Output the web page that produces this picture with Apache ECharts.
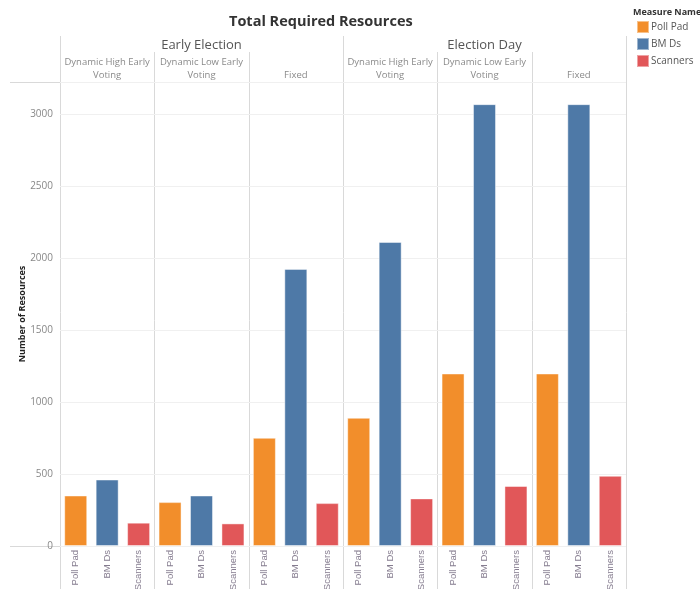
<!DOCTYPE html>
<html>
<head>
<meta charset="utf-8">
<script src="https://cdn.jsdelivr.net/npm/echarts@6/dist/echarts.min.js"></script>
<style>
  html, body { margin: 0; padding: 0; background: #fff; }
  #root { width: 700px; height: 589px; }
</style>
</head>
<body>
<div id="root"></div>
<script>
const groups = ['Early Election', 'Election Day'];
const scenarios = ['Dynamic High Early\nVoting', 'Dynamic Low Early\nVoting', 'Fixed'];
const measures = ['Poll Pad', 'BM Ds', 'Scanners'];
const colors = ['#F28E2B', '#4E79A7', '#E15759'];

// one value per panel: EE high, EE low, EE fixed, ED high, ED low, ED fixed
const pollPad = [351, 305, 752, 891, 1199, 1199];
const bmDs = [462, 351, 1926, 2113, 3071, 3071];
const scanners = [162, 157, 298, 331, 417, 488];

const values = [pollPad, bmDs, scanners];
const font = 'Open Sans';

const gridLeft = 60, gridRight = 74, gridTop = 82, gridBottom = 43;
const W = 700, H = 589;
const plotW = W - gridLeft - gridRight;

// 18 categories: panel x measure
let cats = [];
let panelNames = [];
groups.forEach(() => scenarios.forEach(s => {
  panelNames.push(s);
  measures.forEach(m => cats.push(m));
}));

const series = measures.map((m, mi) => {
  let data = cats.map(() => null);
  values[mi].forEach((v, p) => { data[p * 3 + mi] = v; });
  return {
    name: m,
    type: 'bar',
    data: data,
    barWidth: 23,
    barGap: '-100%',
    itemStyle: { color: colors[mi], borderColor: 'rgba(255,255,255,0.45)', borderWidth: 1 },
    emphasis: { disabled: true }
  };
});

// panel separators
let lines = [];
const panelW = plotW / 6;
for (let i = 0; i <= 6; i++) {
  const x = Math.round(gridLeft + i * panelW) + 0.5;
  const top = (i % 3 === 0) ? 36 : 52;
  lines.push({
    type: 'line', silent: true,
    shape: { x1: x, y1: top, x2: x, y2: H },
    style: { stroke: '#d9d9d9', lineWidth: 1 }
  });
}
lines.push({
  type: 'line', silent: true,
  shape: { x1: 10, y1: gridTop + 0.5, x2: W - gridRight, y2: gridTop + 0.5 },
  style: { stroke: '#d9d9d9', lineWidth: 1 }
});
lines.push({
  type: 'line', silent: true,
  shape: { x1: 10, y1: H - gridBottom + 0.5, x2: W - gridRight, y2: H - gridBottom + 0.5 },
  style: { stroke: '#d9d9d9', lineWidth: 1 }
});
lines.push({
  type: 'text', left: 633, top: 8, silent: true,
  style: { text: 'Measure Names', font: 'bold 9px "' + font + '"', fill: '#333' }
});

let myChart = echarts.init(document.getElementById('root'));

let option = {
  animation: false,
  textStyle: { fontFamily: font },
  title: {
    text: 'Total Required Resources',
    left: 224,
    top: 9,
    textStyle: { fontFamily: font, fontSize: 14.5, fontWeight: 'bold', color: '#333' }
  },
  legend: {
    data: measures,
    orient: 'vertical',
    left: 636,
    top: 20,
    padding: 0,
    icon: 'rect',
    itemWidth: 12,
    itemHeight: 12,
    itemGap: 3,
    selectedMode: false,
    textStyle: { fontFamily: font, fontSize: 10, color: '#555', padding: [0, 0, 0, -3] }
  },
  grid: {
    left: gridLeft, right: gridRight, top: gridTop, bottom: gridBottom,
    outerBoundsMode: 'none'
  },
  xAxis: [
    {
      type: 'category',
      data: cats,
      axisLine: { show: false },
      axisTick: { show: false },
      axisLabel: {
        rotate: 90, margin: 4, fontSize: 9.5, fontFamily: 'Liberation Sans',
        color: '#857c8f', interval: 0
      }
    },
    {
      type: 'category',
      data: panelNames,
      position: 'top',
      axisLine: { show: false },
      axisTick: { show: false },
      axisLabel: { interval: 0, margin: 0, fontSize: 9.5, lineHeight: 13, color: '#8a8a8a' }
    },
    {
      type: 'category',
      data: groups,
      position: 'top',
      offset: 28,
      axisLine: { show: false },
      axisTick: { show: false },
      axisLabel: { interval: 0, margin: 2, fontSize: 13, color: '#555' }
    }
  ],
  yAxis: {
    type: 'value',
    min: 0,
    max: 3225,
    interval: 500,
    name: 'Number of Resources',
    nameLocation: 'middle',
    nameGap: 33,
    nameMoveOverlap: false,
    nameRotate: 90,
    nameTextStyle: { fontSize: 9, color: '#222', fontWeight: 'bold' },
    axisLine: { show: false },
    axisTick: { show: false },
    axisLabel: {
      fontSize: 10, color: '#888', margin: 7,
      showMaxLabel: false,
      formatter: v => (v % 500 === 0 ? String(v) : '')
    },
    splitLine: { lineStyle: { color: '#f0f0f0' } }
  },
  graphic: lines,
  series: series
};

myChart.setOption(option);
</script>
</body>
</html>
